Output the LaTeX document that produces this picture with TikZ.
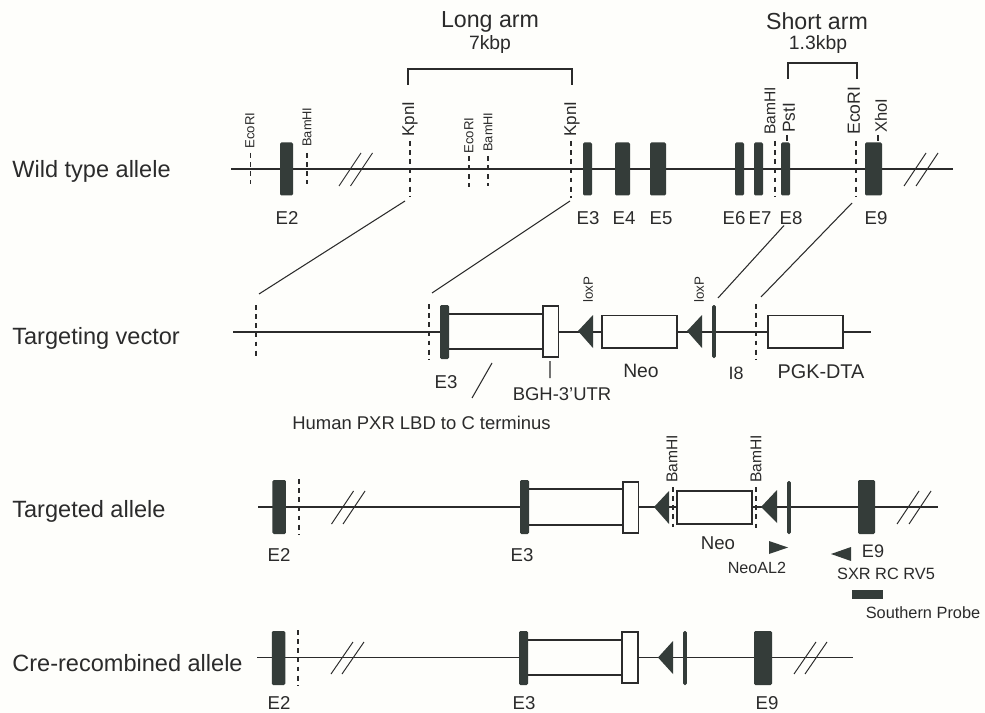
\documentclass[tikz,border=0pt]{standalone}
\usepackage{fontspec}
\setmainfont{Liberation Sans}
\definecolor{exoncol}{HTML}{343C39}
\definecolor{inkcol}{HTML}{2B2B2B}
\definecolor{papercol}{HTML}{FEFEFB}
\newcommand{\fs}[1]{\fontsize{#1}{#1}\selectfont}
\tikzset{
  every node/.style={text=inkcol,inner sep=0pt},
  backbone/.style={draw=inkcol,line width=.75pt},
  site/.style={draw=inkcol,line width=.6pt,dash pattern=on 2.8pt off 2.4pt},
  exon/.style={fill=exoncol,rounded corners=.8pt,minimum height=#1*.02cm,minimum width=0pt},
  whitebox/.style={draw=inkcol,fill=papercol,line width=.7pt},
  arrowhead/.style={fill=exoncol},
  sitelabel/.style={rotate=90,anchor=west},
}
\begin{document}
\begin{tikzpicture}[x=.02cm,y=-.02cm]
    \useasboundingbox[fill=papercol] (0,0) rectangle (985,713);
    % row titles
    \foreach \n/\y/\t in {wt/171/Wild type allele,tv/338/Targeting vector,ta/511.5/Targeted allele,cre/663/Cre-recombined allele}
    \node[anchor=west,font=\fs{13.4}] (\n) at (12,\y) {\t};
    \path
    (231,169) coordinate (wtL)
    (953,169) coordinate (wtR)
    (233,332) coordinate (tvL)
    (445,332) coordinate (tvA)
    (558,332) coordinate (tvB)
    (871,332) coordinate (tvR)
    (258,507) coordinate (taL)
    (525,507) coordinate (taA)
    (638,507) coordinate (taB)
    (938,507) coordinate (taR)
    (257,657.5) coordinate (creL)
    (524,657.5) coordinate (creA)
    (638,657.5) coordinate (creB)
    (853,657.5) coordinate (creR)
    ;
    \draw[backbone] (wtL)--(wtR) (tvL)--(tvA) (tvB)--(tvR) (taL)--(taA) (taB)--(taR) (creL)--(creA) (creB)--(creR);
    % double strokes
    \foreach \x/\y/\h in {339/186/33,350.5/186/33,904/186/33,916/186/33,331.5/524/33,343/524/33,897/524/33,909/524/33,331/674/32,342/674/32,794/674/32,805/674/32}
    \draw[line width=.55pt,draw=inkcol] (\x,\y)--++(22,-\h);
    % exons
    \foreach \n/\x/\w/\l in {a2/286.5/13/E2,a3/587.5/9/E3,a4/622.5/15/E4,a5/658/16/E5,a6/739.5/9/E6,a7/758.5/9/E7,a8/785.5/9/E8,a9/873.5/17/E9}
    \node[exon=53,minimum width=\w*.02cm] (\n) at (\x,169) {};
    \foreach \n/\x/\t in {a2/287/E2,a3/588/E3,a4/624/E4,a5/661/E5,a6/734/E6,a7/760/E7,a8/791/E8,a9/876/E9}
    \node[font=\fs{10.6}] (l\n) at (\x,218) {\t};
    % sites of the wild type allele
    \foreach \n/\x/\u/\v in {sa/250.5/153/184,sb/307/153/184,sc/410/141/197,sd/469/156/187,se/488/156/186,sf/571/141/198,sg/775/141/197,sh/856/141/197}
    {\coordinate (\n) at (\x,\u); \coordinate (\n') at (\x,\v); \draw[site] (\n)--(\n');}
    \draw[line width=.6pt,draw=inkcol] (787,135)--(787,141) (878,135)--(878,141);
    \foreach \n/\x/\y/\s/\t in {ta1/250/149/7.5/EcoRI,tb1/307/147/7.3/BamHI,tc1/410/137/9.7/KpnI,td1/469/154/7.5/EcoRI,te1/488/152/7.3/BamHI,tf1/572/137/9.7/KpnI,tg1/770/135/8.9/BamHI,th1/789/133/9.9/PstI,ti1/854/135/10/EcoRI,tj1/881/133/9.4/XhoI}
    \node[sitelabel,font=\fs{\s}] (\n) at (\x,\y) {\t};
    % arms
    \path
    (408,85) coordinate (longA)
    (572,85) coordinate (longB)
    (788,79) coordinate (shortA)
    (857,79) coordinate (shortB)
    ;
    \draw[backbone] (longA)--(408,69)--(572,69)--(longB) (shortA)--(788,63)--(857,63)--(shortB);
    \node[font=\fs{13.2}] (long) at (490,22) {Long arm};
    \node[font=\fs{11}] (lkb) at (490,45) {7kbp};
    \node[font=\fs{13.2}] (short) at (817,21) {Short arm};
    \node[font=\fs{11}] (skb) at (818,45) {1.3kbp};
    % lines down to the vector
    \path
    (405,201) coordinate (p1) (259,294) coordinate (q1)
    (570,201) coordinate (p2) (432,293) coordinate (q2)
    (784,225.5) coordinate (p3) (718,298) coordinate (q3)
    (852,203) coordinate (p4) (761,297) coordinate (q4)
    ;
    \foreach \i in {1,2,3,4}\draw[line width=.6pt,draw=inkcol] (p\i)--(q\i);
    % targeting vector
    \draw[site] (256,305)--(256,359) (429,304)--(429,359) (756,304)--(756,359);
    \draw[backbone] (449,314)--(543,314) (449,349)--(543,349);
    \node[exon=54,minimum width=9*.02cm] (tvE) at (444.5,332) {};
    \node[exon=53,minimum width=3.6*.02cm] (tvI) at (714,331.5) {};
    \foreach \n/\a/\b/\c/\d in {tvU/543/558.5/306/357,tvN/602/677/315.5/348,tvP/768/843/315.5/348}
    \node[whitebox,minimum width=(\b-\a)*.02cm,minimum height=(\d-\c)*.02cm] (\n) at ({(\a+\b)/2},{(\c+\d)/2}) {};
    \fill[arrowhead] (578,331)--(593,315)--(593,348)--cycle (687,331)--(702,315)--(702,348)--cycle;
    \foreach \n/\x/\y/\s/\t in {lA/588/303/7.6/loxP,lB/699/303/7.6/loxP}
    \node[sitelabel,font=\fs{\s}] (\n) at (\x,\y) {\t};
    \draw[line width=.6pt,draw=inkcol] (550,361)--(550,378) (492,363)--(472,398);
    \foreach \n/\x/\y/\s/\t in {tv3/446/382/10.6/E3,tvB/562/394/10.5/BGH-3'UTR,tvO/641/371/11/Neo,tv8/736/373/10.2/I8,tvD/821/372/11.3/PGK-DTA}
    \node[font=\fs{\s}] (\n) at (\x,\y) {\t};
    \node[anchor=west,font=\fs{10.5}] (pxr) at (292,423) {Human PXR LBD to C terminus};
    % targeted allele
    \draw[site] (299,479)--(299,535) (673,487)--(673,527) (756,487)--(756,529);
    \draw[backbone] (529,489)--(623,489) (529,525)--(623,525);
    \node[exon=54,minimum width=13.5*.02cm] (taE) at (279.2,507) {};
    \node[exon=54,minimum width=9*.02cm] (taF) at (524.5,507) {};
    \node[exon=53,minimum width=3.6*.02cm] (taI) at (789,507.5) {};
    \node[exon=54,minimum width=17*.02cm] (taG) at (866.5,507) {};
    \foreach \n/\a/\b/\c/\d in {taU/623/638.5/482/533,taN/677/752/491/524}
    \node[whitebox,minimum width=(\b-\a)*.02cm,minimum height=(\d-\c)*.02cm] (\n) at ({(\a+\b)/2},{(\c+\d)/2}) {};
    \fill[arrowhead] (654,507)--(669,491)--(669,524)--cycle (761,507)--(777,490)--(777,523)--cycle;
    \fill[arrowhead] (769,541)--(788,547.5)--(769,554)--cycle (831,554)--(851,547)--(851,561)--cycle;
    \node[fill=exoncol,minimum width=31*.02cm,minimum height=9*.02cm] (probe) at (867.5,594.5) {};
    \foreach \n/\x/\y/\s/\t in {ra/672/483/8.9/BamHI,rb/756/483/8.9/BamHI}
    \node[sitelabel,font=\fs{\s}] (\n) at (\x,\y) {\t};
    \foreach \n/\x/\y/\s/\t in {ta2/279/555/10.6/E2,ta3/522/555/10.6/E3,taO/718/543/10.6/Neo,ta9/873/551/10.3/E9,taL/757/568/9.2/NeoAL2,taS/886/574/9.3/SXR RC RV5,taP/923/613/9.3/Southern Probe}
    \node[font=\fs{\s}] (\n) at (\x,\y) {\t};
    % cre-recombined allele
    \draw[site] (298,630)--(298,685);
    \draw[backbone] (528,640)--(622,640) (528,675)--(622,675);
    \node[exon=54,minimum width=13.5*.02cm] (crE) at (278.5,658) {};
    \node[exon=54,minimum width=9*.02cm] (crF) at (523.5,658) {};
    \node[exon=54,minimum width=3.6*.02cm] (crI) at (685,658) {};
    \node[exon=54,minimum width=18*.02cm] (crG) at (763,658) {};
    \node[whitebox,minimum width=16*.02cm,minimum height=51*.02cm] (crU) at (630,657.5) {};
    \fill[arrowhead] (658,657.5)--(673,641)--(673,674)--cycle;
    \foreach \n/\x/\t in {cr2/279/E2,cr3/524/E3,cr9/767/E9}
    \node[font=\fs{10.6}] (\n) at (\x,703) {\t};
\end{tikzpicture}
\end{document}
